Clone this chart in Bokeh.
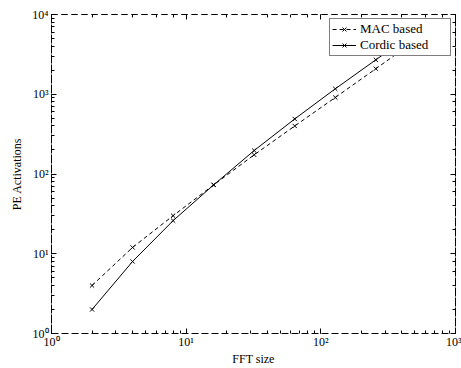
from bokeh.plotting import figure
from bokeh.models import LogAxis, CustomJSTickFormatter, Legend, LegendItem, Range1d
from bokeh.embed import file_html
from bokeh.resources import INLINE

fft_size = [2, 4, 8, 16, 32, 64, 128, 256, 512]
mac_based = [4, 12, 30, 73, 174, 400, 910, 2090, 4800]
cordic_based = [2, 8, 26, 73, 197, 490, 1170, 2700, 6200]
series_names = ["MAC based", "Cordic based"]

FONT = "Liberation Serif"

p = figure(width=461, height=368, x_axis_type="log", y_axis_type="log",
           x_range=Range1d(1, 1000), y_range=Range1d(1, 10000),
           output_backend="svg", toolbar_location=None,
           min_border_left=51, min_border_right=6, min_border_top=14, min_border_bottom=35)
p.xgrid.visible = False
p.ygrid.visible = False
p.outline_line_color = "black"
p.outline_line_dash = "6 4"
p.outline_line_width = 1

sup = CustomJSTickFormatter(code="""
const s = {'0':'\u2070','1':'\u00b9','2':'\u00b2','3':'\u00b3','4':'\u2074','5':'\u2075','-':'\u207b'};
const e = Math.round(Math.log10(tick)).toString();
let out = '10';
for (const c of e) out += s[c];
return out;
""")

for ax in (p.xaxis[0], p.yaxis[0]):
    ax.formatter = sup
    ax.major_label_text_font = FONT
    ax.major_label_text_font_size = "12px"
    ax.major_label_text_color = "black"
    ax.axis_label_text_font = FONT
    ax.axis_label_text_font_size = "12px"
    ax.axis_label_text_font_style = "normal"
    ax.axis_label_text_color = "black"
    ax.axis_line_color = "black"
    ax.major_tick_line_color = "black"
    ax.minor_tick_line_color = "black"
    ax.axis_line_dash = "6 4"
    ax.major_tick_in = 5
    ax.major_tick_out = 0
    ax.minor_tick_in = 3
    ax.minor_tick_out = 0
p.xaxis.major_label_standoff = 1
p.yaxis.major_label_standoff = 3
p.xaxis.axis_label = "FFT size"
p.yaxis.axis_label = "PE Activations"
p.xaxis.axis_label_standoff = 0
p.yaxis.axis_label_standoff = 5

blank = CustomJSTickFormatter(code="return '';")
for loc in ("above", "right"):
    ax = LogAxis(formatter=blank, axis_line_dash="6 4", axis_line_color="black",
                 major_tick_line_color="black", minor_tick_line_color="black",
                 major_tick_in=5, major_tick_out=0, minor_tick_in=3, minor_tick_out=0,
                 major_label_text_font_size="1px", major_label_standoff=0)
    p.add_layout(ax, loc)

l1 = p.line(fft_size, mac_based, line_color="black", line_dash="4 3", line_width=1)
s1 = p.scatter(fft_size, mac_based, marker="x", size=6, line_color="black", line_width=1)
l2 = p.line(fft_size, cordic_based, line_color="black", line_width=1)
s2 = p.scatter(fft_size, cordic_based, marker="x", size=6, line_color="black", line_width=1)

legend = Legend(items=[LegendItem(label=series_names[0], renderers=[l1, s1]),
                       LegendItem(label=series_names[1], renderers=[l2, s2])],
                location="top_right", border_line_color="black", border_line_width=1,
                background_fill_alpha=1, label_text_font=FONT, label_text_font_size="13px",
                label_text_color="black",
                glyph_width=24, glyph_height=14, label_height=14, label_width=88,
                spacing=0, padding=2, margin=4, label_standoff=4)
p.add_layout(legend, "center")

open("out.html", "w").write(file_html(p, INLINE))
